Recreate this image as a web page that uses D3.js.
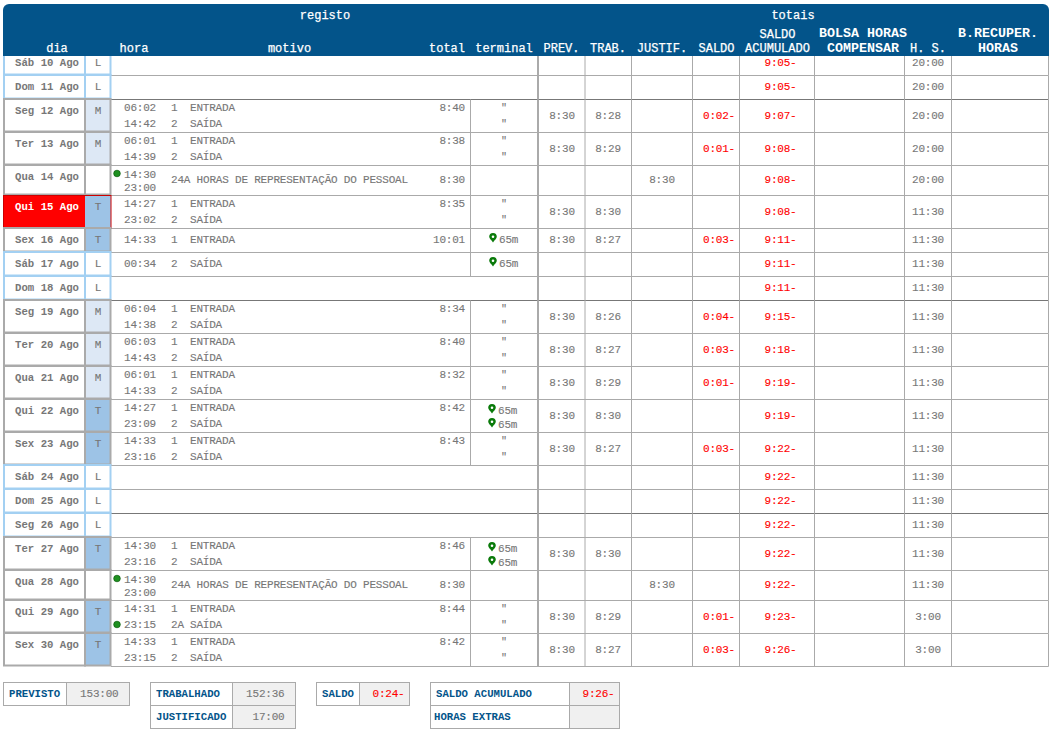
<!DOCTYPE html>
<html><head><meta charset="utf-8">
<script src="https://cdn.jsdelivr.net/npm/d3@7/dist/d3.min.js"></script>
<style>html,body{margin:0;padding:0;background:#fff}#c{position:relative;width:1058px;height:735px;overflow:hidden}svg{display:block;position:absolute;left:0;top:0}
#labels{position:absolute;left:0;top:0;width:1058px;height:735px;opacity:.999}
.t{position:absolute;font-family:"Liberation Mono",monospace;white-space:pre;line-height:16px;height:16px}</style>
</head><body><div id="c"></div>
<script>
const days=["Sáb 10 Ago","Dom 11 Ago","Seg 12 Ago","Ter 13 Ago","Qua 14 Ago","Qui 15 Ago","Sex 16 Ago","Sáb 17 Ago","Dom 18 Ago","Seg 19 Ago","Ter 20 Ago","Qua 21 Ago","Qui 22 Ago","Sex 23 Ago","Sáb 24 Ago","Dom 25 Ago","Seg 26 Ago","Ter 27 Ago","Qua 28 Ago","Qui 29 Ago","Sex 30 Ago"];
const shifts=["L","L","M","M","","T","T","L","L","M","M","M","T","T","L","L","L","T","","T","T"];
const hora1=["","","06:02","06:01","14:30","14:27","14:33","00:34","","06:04","06:03","06:01","14:27","14:33","","","","14:30","14:30","14:31","14:33"];
const hora2=["","","14:42","14:39","23:00","23:02","","","","14:38","14:43","14:33","23:09","23:16","","","","23:16","23:00","23:15","23:15"];
const num1=["","","1","1","","1","1","2","","1","1","1","1","1","","","","1","","1","1"];
const num2=["","","2","2","","2","","","","2","2","2","2","2","","","","2","","2A","2"];
const motivo1=["","","ENTRADA","ENTRADA","","ENTRADA","ENTRADA","SAÍDA","","ENTRADA","ENTRADA","ENTRADA","ENTRADA","ENTRADA","","","","ENTRADA","","ENTRADA","ENTRADA"];
const motivo2=["","","SAÍDA","SAÍDA","","SAÍDA","","","","SAÍDA","SAÍDA","SAÍDA","SAÍDA","SAÍDA","","","","SAÍDA","","SAÍDA","SAÍDA"];
const justText=["","","","","24A HORAS DE REPRESENTAÇÃO DO PESSOAL","","","","","","","","","","","","","","24A HORAS DE REPRESENTAÇÃO DO PESSOAL","",""];
const totals=["","","8:40","8:38","8:30","8:35","10:01","","","8:34","8:40","8:32","8:42","8:43","","","","8:46","8:30","8:44","8:42"];
const term1=["","",'"','"',"",'"',"65m","65m","",'"','"','"',"65m",'"',"","","","65m","",'"','"'];
const term2=["","",'"','"',"",'"',"","","",'"','"','"',"65m",'"',"","","","65m","",'"','"'];
const prev=["","","8:30","8:30","","8:30","8:30","","","8:30","8:30","8:30","8:30","8:30","","","","8:30","","8:30","8:30"];
const trab=["","","8:28","8:29","","8:30","8:27","","","8:26","8:27","8:29","8:30","8:27","","","","8:30","","8:29","8:27"];
const justif=["","","","","8:30","","","","","","","","","","","","","","8:30","",""];
const saldo=["","","0:02-","0:01-","","","0:03-","","","0:04-","0:03-","0:01-","","0:03-","","","","","","0:01-","0:03-"];
const acum=["9:05-","9:05-","9:07-","9:08-","9:08-","9:08-","9:11-","9:11-","9:11-","9:15-","9:18-","9:19-","9:19-","9:22-","9:22-","9:22-","9:22-","9:22-","9:22-","9:23-","9:26-"];
const hs=["20:00","20:00","20:00","20:00","20:00","11:30","11:30","11:30","11:30","11:30","11:30","11:30","11:30","11:30","11:30","11:30","11:30","11:30","11:30","3:00","3:00"];
const dotsFirst=[4,18], dotsSecond=[19];
const todayIdx=5;

const W=1058,H=735;
const cols=["left","shift","hora","term","prev","trab","just","saldo","acum","bolsa","hs","brec","right"];
const colX=d3.scaleOrdinal(cols,[3.5,85,111,470.5,538,585,631.5,692.5,739.5,814.5,904.5,951.5,1048.5]);
const rowH=d3.scaleOrdinal(["none","one","two","just"],[24,24,33,30]);
const kind=days.map((d,i)=>justText[i]?"just":hora2[i]?"two":hora1[i]?"one":"none");
const tops=[51.5,...d3.cumsum(kind.map(k=>rowH(k))).map(v=>51.5+v)];
const y=d3.scaleOrdinal(days,tops);
const rowsData=days.map((d,i)=>({i,d,top:y(d),h:rowH(kind[i]),kind:kind[i]}));
const grey="#777",gridC="#aaa",red="#ff0000",navy="#03548a",lb="#a3d0f2";
const fs=11;

const root=d3.select("#c");
const svg=root.append("svg").attr("width",W).attr("height",H).attr("viewBox",[0,0,W,H]);
const labels=root.append("div").attr("id","labels");

function T(x,base,s,o={}){
  const a=o.a||"start",size=o.fs||fs;
  const d=labels.append("div").attr("class","t").text(s)
    .style("top",Math.round(base-11)+"px")
    .style("font-size",size+"px").style("font-weight",o.w||"normal").style("color",o.c||grey)
    .style("letter-spacing",(o.ls!==undefined?o.ls:-0.2)+"px")
    .style("-webkit-text-stroke",(o.st!==undefined?o.st:0.12)+"px "+(o.c||grey));
  if(a==="start")d.style("left",x+"px");
  if(a==="end")d.style("left",(x-200)+"px").style("width","200px").style("text-align","right");
  if(a==="middle")d.style("left",(x-100)+"px").style("width","200px").style("text-align","center");
  return d;
}

const g=svg.append("g");
rowsData.forEach(r=>{
  const b=r.top+r.h;
  const wk=(r.d.startsWith("Dom"));
  g.append("line").attr("x1",colX("hora")).attr("x2",colX("right")).attr("y1",b).attr("y2",b).attr("stroke",wk?"#777":gridC);
  ["prev","trab","just","saldo","acum","bolsa","hs","brec","right"].forEach(c=>{
    g.append("line").attr("x1",colX(c)).attr("x2",colX(c)).attr("y1",r.top).attr("y2",b).attr("stroke",gridC).attr("stroke-width",c==="prev"?2:1);
  });
  if(r.kind!=="none") g.append("line").attr("x1",colX("term")).attr("x2",colX("term")).attr("y1",r.top).attr("y2",b).attr("stroke",gridC);
});
const shiftFill=d3.scaleOrdinal(["M","T","L",""],["#dde8f5","#9dc3e6","#fff","#fff"]);
rowsData.forEach(r=>{
  const off=r.kind==="none"||shifts[r.i]==="L";
  const today=r.i===todayIdx;
  const bc=off?lb:gridC;
  const x0=4,x1=85,x2=110.5, yy=r.top-.5, h=r.h-.5;
  if(today){
    g.append("rect").attr("x",3).attr("y",yy+.5).attr("width",x1-3).attr("height",h).attr("fill","#ff0000");
    g.append("rect").attr("x",x1).attr("y",yy+.5).attr("width",x2-x1+.5).attr("height",h).attr("fill",shiftFill(shifts[r.i]));
    g.append("rect").attr("x",3.5).attr("y",yy+.5).attr("width",x2-3).attr("height",h).attr("fill","none").attr("stroke","#cc0000").attr("stroke-width",1);
  } else {
    g.append("rect").attr("x",x0).attr("y",yy).attr("width",x1-x0).attr("height",h).attr("fill","#fff").attr("stroke",bc).attr("stroke-width",2);
    g.append("rect").attr("x",x1).attr("y",yy).attr("width",x2-x1).attr("height",h).attr("fill",shiftFill(shifts[r.i])).attr("stroke",bc).attr("stroke-width",2);
  }
});
function pin(g,cx,cy){
  g.append("path").attr("d",`M${cx},${cy+5.5} C${cx-1.5},${cy+3} ${cx-3.8},${cy+1.5} ${cx-3.8},${cy-.3} A3.8,3.8 0 1 1 ${cx+3.8},${cy-.3} C${cx+3.8},${cy+1.5} ${cx+1.5},${cy+3} ${cx},${cy+5.5} Z`).attr("fill","#0a7a0a");
  g.append("circle").attr("cx",cx).attr("cy",cy-.3).attr("r",1.3).attr("fill","#fff");
}
function term(s,base,dx){
  if(s)pin(g,493+dx,base-6),T(499+dx,base,s);
}
function dot(yy){g.append("circle").attr("cx",117).attr("cy",yy).attr("r",3.3).attr("fill","#1e9020").attr("stroke","#0c5c0c").attr("stroke-width",.7);}
svg.append("path").attr("d",`M3,56 V10 A6,6 0 0 1 9,4 H1043 A6,6 0 0 1 1049,10 V56 Z`).attr("fill",navy);

rowsData.forEach(r=>{
  const i=r.i,t=Math.round(r.top),mid=t+Math.round(r.h/2)+2;
  T(79,t+14,r.d,{a:"end",c:i===todayIdx?"#fff":grey,w:"bold",st:0,fs:10.67,ls:0});
  if(shifts[i])T(98,t+14,shifts[i],{a:"middle"});
  if(r.kind==="two"){
    T(124,t+11,hora1[i]);T(124,t+27,hora2[i]);
    T(171,t+11,num1[i]);T(171,t+27,num2[i]);
    T(190,t+11,motivo1[i]);T(190,t+27,motivo2[i]);
    T(465,t+11,totals[i],{a:"end"});
    if(term1[i]==='"'){T(504,t+12,'"',{a:"middle",fs:10});T(504,t+28,'"',{a:"middle",fs:10});}
    else{term(term1[i],t+14,-1);term(term2[i],t+28,-1);}
  } else if(r.kind==="one"){
    T(124,t+14,hora1[i]);T(171,t+14,num1[i]);T(190,t+14,motivo1[i]);
    if(totals[i])T(465,t+14,totals[i],{a:"end"});
    term(term1[i],t+14,0);
  } else if(r.kind==="just"){
    T(124,t+12,hora1[i]);T(124,t+25,hora2[i]);
    T(171,mid,justText[i]);T(465,mid,totals[i],{a:"end"});
  }
  if(dotsFirst.includes(i))dot(r.top+8);
  if(dotsSecond.includes(i))dot(r.top+24);
  const rc=(arr,x,c)=>{if(arr[i])T(x,r.kind==="none"||r.kind==="one"?t+14:mid,arr[i],{a:"middle",c});};
  rc(prev,562);rc(trab,608);rc(justif,662);rc(saldo,719,red);rc(acum,780.5,red);rc(hs,928);
});
const hTexts=[["registo",325,19],["totais",793,19],["dia",57,52],["hora",134,52],["motivo",289.5,52],["total",447,52],["terminal",504,52],["PREV.",561.5,52],["TRAB.",608,52],["JUSTIF.",662,52],["SALDO",716.5,52],["SALDO",777.5,38],["ACUMULADO",777.5,52],["H. S.",928,52]];
hTexts.forEach(h=>T(h[1],h[2],h[0],{a:"middle",c:"#fff",fs:12,ls:0,st:.25}));
[["BOLSA HORAS",863,37],["COMPENSAR",863,52],["B.RECUPER.",998,37],["HORAS",998,52]].forEach(h=>T(h[1],h[2],h[0],{a:"middle",c:"#fff",fs:13.33,w:"bold",ls:0,st:0}));
const foot=svg.append("g");
const boxes=[
 {x:[3.5,66.5,129.5],r:[["PREVISTO","153:00",grey,11]]},
 {x:[150.5,232.5,295.5],r:[["TRABALHADO","152:36",grey,11],["JUSTIFICADO","17:00",grey,11]]},
 {x:[316.5,359.5,409.5],r:[["SALDO","0:24-",red,5]]},
 {x:[430.5,569.5,619.5],r:[["SALDO ACUMULADO","9:26-",red,5],["HORAS EXTRAS","",grey,5]]}];
boxes.forEach(b=>b.r.forEach((r,k)=>{
  const t=682.5+k*23;
  foot.append("rect").attr("x",b.x[0]).attr("y",t).attr("width",b.x[1]-b.x[0]).attr("height",23).attr("fill","#fff").attr("stroke",gridC);
  foot.append("rect").attr("x",b.x[1]).attr("y",t).attr("width",b.x[2]-b.x[1]).attr("height",23).attr("fill","#f0f0f0").attr("stroke",gridC);
  T(b.x[0]+(r[0]==="HORAS EXTRAS"?3.5:5.5),t+14,r[0],{c:navy,w:"bold",fs:10.67,ls:0,st:0});
  if(r[1])T(b.x[2]-r[3],t+14,r[1],{a:"end",c:r[2]});
}));
</script></body></html>
